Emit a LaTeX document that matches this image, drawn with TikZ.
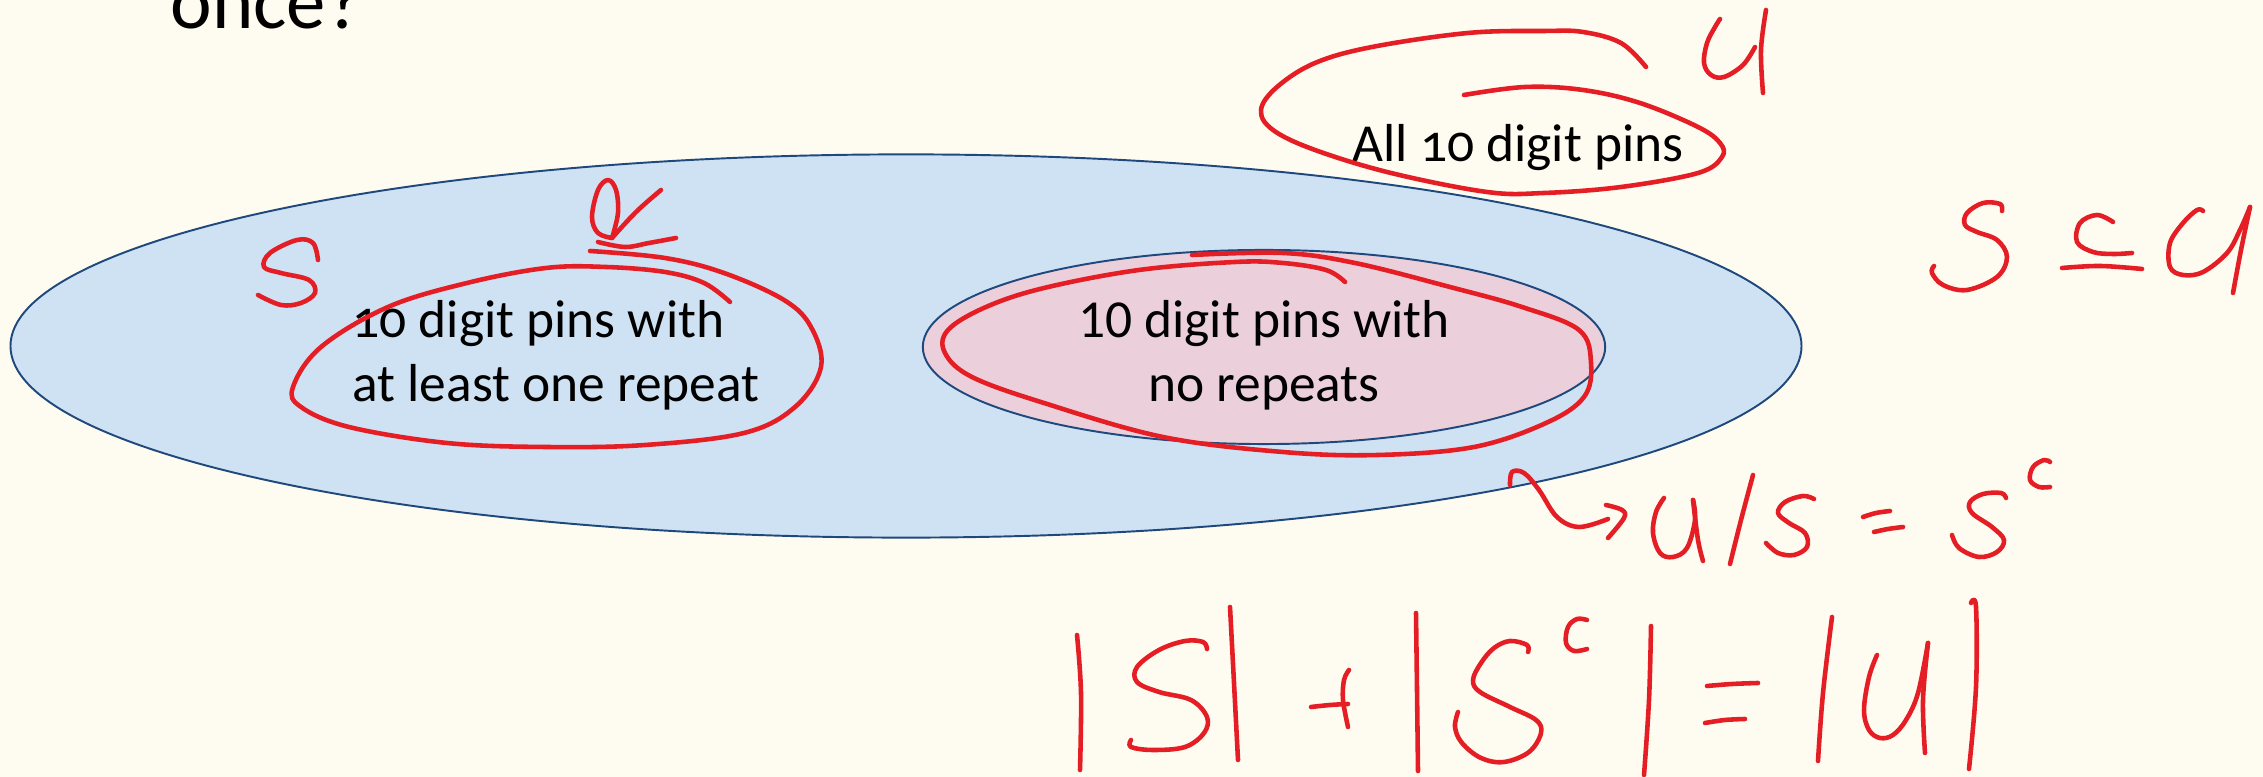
\documentclass[tikz,border=0pt]{standalone}
\usepackage{fontspec}
\setmainfont{Carlito}
\newfontfamily\oldnum[Numbers=OldStyle]{Carlito}
\usetikzlibrary{shapes.geometric}
\definecolor{bgcol}{HTML}{FEFCF0}
\definecolor{bluefill}{HTML}{CFE2F3}
\definecolor{pinkfill}{HTML}{EBD0DC}
\definecolor{edgeblue}{HTML}{1F497D}
\definecolor{inkred}{HTML}{E41E24}
\tikzset{
  ink/.style={draw=inkred, line width=1.3pt, line cap=round, line join=round},
  setshape/.style={ellipse, draw=edgeblue, line width=0.55pt, inner sep=0pt, outer sep=0pt},
  lbl/.style={inner sep=0pt, font=\fontsize{15.2}{18.1}\selectfont}
}
\begin{document}
\begin{tikzpicture}[x=0.01cm, y=-0.01cm]
\useasboundingbox (0,0) rectangle (2263,777);
\fill[bgcol] (0,0) rectangle (2263,777);

% heading fragment
\node[anchor=base west, inner sep=0pt, font=\fontsize{22.4}{27}\selectfont] (head) at (170,29) {once?};

% sets
\node[setshape, fill=bluefill, minimum width=17.9cm, minimum height=3.83cm] (U) at (906,346) {};
\node[setshape, fill=pinkfill, minimum width=6.82cm, minimum height=1.94cm] (Sc) at (1264,347) {};

% labels
\node[lbl, align=left, anchor=center] (Slbl) at (556,355) {\oldnum 10 digit pins with\\at least one repeat};
\node[lbl, align=center, anchor=center] (Sclbl) at (1264,355) {10 digit pins with\\no repeats};
\node[lbl, anchor=base] (Ulbl) at (1518,162) {\oldnum All 10 digit pins};

% ---- handwriting ----
% loop around "All 10 digit pins"
\draw[ink] plot[smooth, tension=0.6] coordinates {(1646,67) (1621,43) (1583,32) (1544,31) (1468,33) (1372,47) (1315,63) (1277,87) (1261,110) (1273,130) (1315,150) (1391,173) (1487,192) (1544,193) (1621,187) (1698,173) (1722,157) (1720,143) (1698,127) (1640,103) (1583,90) (1525,87) (1464,95)};
% U near top
\draw[ink] plot[smooth, tension=0.6] coordinates {(1720,19) (1715,27) (1707,43) (1704,63) (1711,75) (1724,77) (1743,65) (1755,47)};
\draw[ink] plot[smooth, tension=0.6] coordinates {(1766,10) (1761,50) (1763,93)};

% S subseteq U (right)
\draw[ink] plot[smooth, tension=0.6] coordinates {(2002,211) (2000,204) (1983,203) (1967,213) (1965,225) (1977,232) (1997,240) (2007,257) (1997,277) (1967,290) (1943,285) (1932,273) (1934,266)};
\draw[ink] plot[smooth, tension=0.6] coordinates {(2113,222) (2097,215) (2080,223) (2077,242) (2093,252) (2113,254) (2132,253)};
\draw[ink] plot[smooth, tension=0.6] coordinates {(2062,268) (2100,266) (2142,269)};
\draw[ink] plot[smooth, tension=0.6] coordinates {(2203,211) (2197,210) (2183,223) (2170,243) (2170,267) (2183,275) (2203,272) (2227,253) (2240,230) (2250,207)};
\draw[ink] plot[smooth, tension=0.6] coordinates {(2250,207) (2241,250) (2233,293)};

% S label (left)
\draw[ink] plot[smooth, tension=0.6] coordinates {(318,260) (313,243) (297,240) (270,253) (264,267) (281,273) (309,280) (315,293) (301,303) (281,305) (258,295)};
% U-like mark above left loop
\draw[ink] plot[smooth, tension=0.6] coordinates {(612,238) (598,233) (592,217) (598,190) (608,180) (616,190) (618,213) (612,238)};
\draw[ink] plot[smooth, tension=0.6] coordinates {(612,238) (636,212) (661,190)};
\draw[ink] plot[smooth, tension=0.6] coordinates {(598,242) (625,247) (649,243) (676,238)};

% loop around left label
\draw[ink] plot[smooth, tension=0.6] coordinates {(730,302) (704,283) (665,272) (606,267) (546,268) (467,283) (388,307) (321,347) (293,387) (301,407) (349,427) (447,443) (546,447) (645,445) (744,433) (795,407) (821,367) (811,327) (784,300) (724,273) (665,258) (590,251)};

% loop around right label
\draw[ink] plot[smooth, tension=0.6] coordinates {(1345,282) (1326,270) (1283,263) (1235,262) (1139,270) (1044,288) (986,307) (948,330) (945,353) (972,377) (1044,403) (1163,437) (1283,452) (1378,455) (1474,447) (1546,423) (1584,397) (1591,363) (1579,330) (1522,307) (1450,287) (1355,263) (1283,253) (1192,255)};

% arrow squiggle and U/S = S^c
\draw[ink] plot[smooth, tension=0.6] coordinates {(1510,485) (1512,472) (1524,473) (1539,490) (1557,517) (1579,527) (1608,519)};
\draw[ink] plot[smooth, tension=0.6] coordinates {(1606,505) (1622,510) (1624,518) (1608,538)};
\draw[ink] plot[smooth, tension=0.6] coordinates {(1664,498) (1656,512) (1653,533) (1660,553) (1673,557) (1687,548) (1695,520) (1693,500)};
\draw[ink] plot[smooth, tension=0.6] coordinates {(1693,500) (1698,540) (1703,561)};
\draw[ink] plot[smooth, tension=0.6] coordinates {(1753,475) (1741,520) (1730,564)};
\draw[ink] plot[smooth, tension=0.6] coordinates {(1814,499) (1803,496) (1785,502) (1778,513) (1789,523) (1805,533) (1807,547) (1794,555) (1778,553) (1766,543)};
\draw[ink] plot[smooth, tension=0.6] coordinates {(1863,517) (1876,513) (1890,511)};
\draw[ink] plot[smooth, tension=0.6] coordinates {(1874,532) (1888,529) (1903,527)};
\draw[ink] plot[smooth, tension=0.6] coordinates {(2006,498) (2001,493) (1983,494) (1970,502) (1972,513) (1992,527) (2004,540) (1997,552) (1979,557) (1959,548) (1952,535)};
\draw[ink] plot[smooth, tension=0.6] coordinates {(2050,462) (2044,460) (2033,467) (2030,480) (2039,487) (2050,487)};

% |S| + |S^c| = |U|
\draw[ink] plot[smooth, tension=0.6] coordinates {(1077,635) (1081,693) (1080,770)};
\draw[ink] plot[smooth, tension=0.6] coordinates {(1207,649) (1203,642) (1185,641) (1159,650) (1137,667) (1137,682) (1159,692) (1191,700) (1207,717) (1204,733) (1185,747) (1153,750) (1131,747) (1131,740)};
\draw[ink] plot[smooth, tension=0.6] coordinates {(1230,607) (1234,683) (1238,760)};
\draw[ink] plot[smooth, tension=0.6] coordinates {(1311,707) (1330,705) (1348,704)};
\draw[ink] plot[smooth, tension=0.6] coordinates {(1349,670) (1344,680) (1343,700) (1348,727)};
\draw[ink] plot[smooth, tension=0.6] coordinates {(1416,613) (1417,690) (1418,771)};
\draw[ink] plot[smooth, tension=0.6] coordinates {(1528,652) (1527,645) (1510,641) (1494,648) (1481,663) (1473,680) (1480,692) (1510,707) (1536,720) (1541,733) (1529,752) (1504,762) (1481,758) (1462,743) (1455,727) (1458,712)};
\draw[ink] plot[smooth, tension=0.6] coordinates {(1587,620) (1577,619) (1568,627) (1566,643) (1574,651) (1587,649)};
\draw[ink] plot[smooth, tension=0.6] coordinates {(1651,626) (1649,700) (1644,775)};
\draw[ink] plot[smooth, tension=0.6] coordinates {(1707,686) (1732,684) (1758,683)};
\draw[ink] plot[smooth, tension=0.6] coordinates {(1705,723) (1725,720) (1745,719)};
\draw[ink] plot[smooth, tension=0.6] coordinates {(1832,617) (1823,693) (1818,761)};
\draw[ink] plot[smooth, tension=0.6] coordinates {(1877,655) (1869,677) (1864,710) (1869,730) (1880,738) (1893,735) (1906,720) (1918,693) (1928,643)};
\draw[ink] plot[smooth, tension=0.6] coordinates {(1928,643) (1923,700) (1925,753)};
\draw[ink] plot[smooth, tension=0.6] coordinates {(1971,603) (1976,607) (1976,687) (1969,769)};
\end{tikzpicture}
\end{document}
